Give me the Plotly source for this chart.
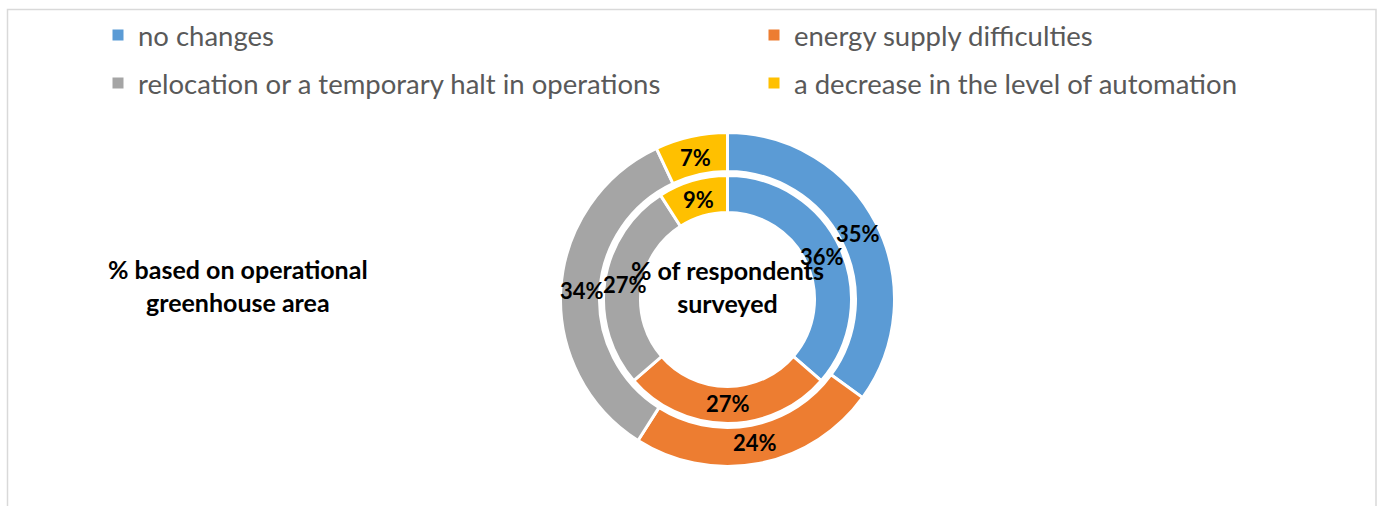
import math
import plotly.graph_objects as go

# Survey answers: how the energy crisis affected greenhouse operations
categories = [
    "no changes",
    "energy supply difficulties",
    "relocation or a temporary halt in operations",
    "a decrease in the level of automation",
]
colors = ["#5B9BD5", "#ED7D31", "#A5A5A5", "#FFC000"]

# outer ring: % based on operational greenhouse area
area_share = [35, 24, 34, 7]
# inner ring: % of respondents surveyed
respondent_share = [36, 27, 27, 9]

W, H = 1381, 506
cx, cy = 727.5, 299.5            # ring centre in px
outer_r, outer_hole = 167, 128   # outer ring radii in px
inner_r, inner_hole = 124, 87    # inner ring radii in px


def px_to_paper(x, y):
    return x / W, 1 - y / H


def domain(r):
    return dict(
        x=[(cx - r) / W, (cx + r) / W],
        y=[1 - (cy + r) / H, 1 - (cy - r) / H],
    )


def ring_labels(values, r_mid):
    """Value labels at the middle of each slice, clockwise from 12 o'clock."""
    total = sum(values)
    out, acc = [], 0
    for v in values:
        theta = 2 * math.pi * (acc + v / 2) / total
        acc += v
        x, y = px_to_paper(cx + r_mid * math.sin(theta), cy - r_mid * math.cos(theta))
        out.append(dict(
            text=f"{v}%", x=x, y=y, xref="paper", yref="paper",
            showarrow=False, xanchor="center", yanchor="middle",
            font=dict(family="Lato", size=22, color="black", weight="bold"),
        ))
    return out


fig = go.Figure()

for vals, r, hole in ((area_share, outer_r, outer_hole),
                      (respondent_share, inner_r, inner_hole)):
    fig.add_trace(go.Pie(
        labels=categories,
        values=vals,
        hole=hole / r,
        domain=domain(r),
        sort=False,
        direction="clockwise",
        rotation=0,
        marker=dict(colors=colors, line=dict(color="white", width=3)),
        textinfo="none",
        showlegend=False,
    ))

# legend: one entry per legend box, laid out in two columns
legend_ids = ["legend", "legend2", "legend3", "legend4"]
for name, col, lg in zip(categories, colors, legend_ids):
    fig.add_trace(go.Scatter(
        x=[None], y=[None], mode="markers", name=name, legend=lg,
        marker=dict(symbol="square", size=11, color=col),
        showlegend=True, hoverinfo="skip",
    ))

legend_style = dict(
    orientation="h",
    xanchor="left",
    yanchor="middle",
    font=dict(family="Lato", size=27.5, color="#595959"),
    bgcolor="rgba(0,0,0,0)",
    itemclick=False,
    itemdoubleclick=False,
)
col_x = [98, 754]
row_y = [35, 83]
legend_layout = {}
for i, lg in enumerate(legend_ids):
    lx, ly = px_to_paper(col_x[i % 2], row_y[i // 2])
    legend_layout[lg] = dict(legend_style, x=lx, y=ly)

annotations = []
annotations += ring_labels(area_share, (outer_r + outer_hole) / 2 - 1.5)
annotations += ring_labels(respondent_share, (inner_r + inner_hole) / 2 - 1.5)

bold_title = dict(family="Lato", size=25, color="black", weight="bold")
tx, ty = px_to_paper(238, 285)
annotations.append(dict(
    text="% based on operational<br>greenhouse area",
    x=tx, y=ty, xref="paper", yref="paper", showarrow=False,
    xanchor="center", yanchor="middle",
    font=bold_title,
))
tx, ty = px_to_paper(727, 286)
annotations.append(dict(
    text="% of respondents<br>surveyed",
    x=tx, y=ty, xref="paper", yref="paper", showarrow=False,
    xanchor="center", yanchor="middle",
    font=bold_title,
))

fig.update_layout(
    width=W,
    height=H,
    margin=dict(l=0, r=0, t=0, b=0),
    paper_bgcolor="white",
    plot_bgcolor="white",
    xaxis=dict(visible=False),
    yaxis=dict(visible=False),
    annotations=annotations,
    shapes=[dict(
        type="rect", xref="paper", yref="paper",
        x0=7.5 / W, x1=1376 / W, y0=-0.1, y1=1 - 9.5 / H,
        line=dict(color="#D9D9D9", width=1.5),
    )],
    **legend_layout,
)

fig.write_html("out.html")
